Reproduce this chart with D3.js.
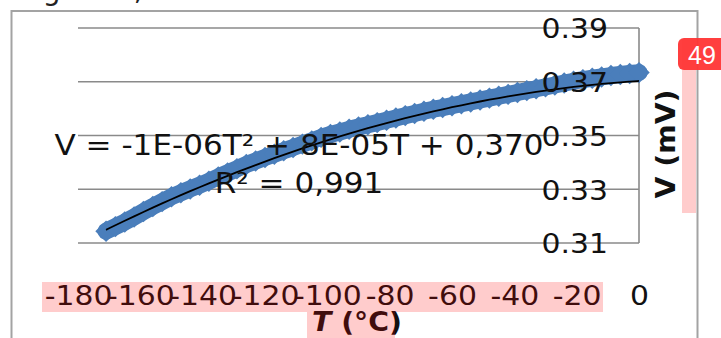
<!DOCTYPE html>
<html>
<head>
<meta charset="utf-8">
<script src="https://cdn.jsdelivr.net/npm/d3@7"></script>
<style>
  html, body { margin: 0; padding: 0; background: #fff; overflow: hidden; }
  svg { display: block; }
</style>
</head>
<body>
<svg id="chart" width="721" height="338"></svg>
<script>
// Thermocouple voltage vs temperature, with a 2nd-order polynomial trend
const temperature = [-171, -168, -165, -162, -159, -156, -153, -150, -147, -144,
  -141, -138, -135, -132, -129, -126, -123, -120, -117, -114,
  -111, -108, -105, -102, -99, -96, -93, -90, -87, -84,
  -81, -78, -75, -72, -69, -66, -63, -60, -57, -54,
  -51, -48, -45, -42, -39, -36, -33, -30, -27, -24,
  -21, -18, -15, -12, -9, -6, -3, 0];
const voltage = [0.3144, 0.3161, 0.3178, 0.3197, 0.3217, 0.3236, 0.3254, 0.3272, 0.3287, 0.3301,
  0.3315, 0.3330, 0.3346, 0.3361, 0.3376, 0.3392, 0.3405, 0.3418, 0.3430, 0.3443,
  0.3455, 0.3468, 0.3480, 0.3493, 0.3504, 0.3513, 0.3523, 0.3532, 0.3540, 0.3548,
  0.3557, 0.3565, 0.3574, 0.3582, 0.3590, 0.3598, 0.3604, 0.3611, 0.3618, 0.3625,
  0.3632, 0.3639, 0.3646, 0.3653, 0.3660, 0.3667, 0.3674, 0.3681, 0.3688, 0.3695,
  0.3702, 0.3708, 0.3713, 0.3718, 0.3723, 0.3727, 0.3731, 0.3734];

// Trend polynomial V = a*T^2 + b*T + c and its fit quality
const trendCoef = [-1.45e-6, 7.6e-5, 0.3703];
const rSquared = 0.991;

const xTicks = [-180, -160, -140, -120, -100, -80, -60, -40, -20, 0];
const yTicks = [0.31, 0.33, 0.35, 0.37, 0.39];
const xTitle = "T";
const xUnit = " (°C)";
const yTitle = "V (mV)";

const svg = d3.select("#chart");
const FONT = "'DejaVu Sans', Verdana, sans-serif";
const STRETCH = 1.09;

const x = d3.scaleLinear().domain([-180, 0]).range([78, 639]);
const y = d3.scaleLinear().domain([0.31, 0.39]).range([243, 28]);

// caption line running off the top of the frame
svg.append("text").attr("x", 21).attr("y", 0)
  .attr("font-family", FONT).attr("font-size", 28).attr("fill", "#222")
  .text("Figura 3,");

// chart area border
svg.append("rect")
  .attr("x", 11.5).attr("y", 11).attr("width", 686).attr("height", 400)
  .attr("fill", "none").attr("stroke", "#a3a3a3").attr("stroke-width", 2);

// horizontal gridlines
svg.append("g").selectAll("line").data(yTicks).join("line")
  .attr("x1", x(-180)).attr("x2", x(0))
  .attr("y1", d => y(d)).attr("y2", d => y(d))
  .attr("stroke", "#8a8a8a").attr("stroke-width", 1.6);

// vertical axis line (crosses at T = 0)
svg.append("line")
  .attr("x1", x(0)).attr("x2", x(0)).attr("y1", y(0.39)).attr("y2", y(0.31))
  .attr("stroke", "#8a8a8a").attr("stroke-width", 1.6);

// measured series: dense band of diamond markers
const pts = temperature.map((t, i) => [t, voltage[i]]);
const blue = "#4a7ebb";
svg.append("path")
  .datum(pts)
  .attr("d", d3.line().x(d => x(d[0])).y(d => y(d[1])))
  .attr("fill", "none").attr("stroke", blue).attr("stroke-width", 17)
  .attr("stroke-linejoin", "round").attr("stroke-linecap", "round");
svg.append("g").selectAll("path").data(pts).join("path")
  .attr("d", d3.symbol(d3.symbolSquare, 230))
  .attr("transform", d => `translate(${x(d[0])},${y(d[1])}) rotate(45)`)
  .attr("fill", blue);

// polynomial trendline
const [a, b, c] = trendCoef;
const poly = t => a * t * t + b * t + c;
svg.append("path")
  .datum(temperature)
  .attr("d", d3.line().x(t => x(t)).y(t => y(poly(t))).curve(d3.curveBasis))
  .attr("fill", "none").attr("stroke", "#000").attr("stroke-width", 1.8);

// y axis labels, to the left of the axis line
const yAxis = d3.axisLeft(y).tickValues(yTicks).tickSize(0).tickPadding(0)
  .tickFormat(d3.format(".2f"));
const gy = svg.append("g").attr("transform", "translate(608,0)").call(yAxis);
gy.select(".domain").remove();
gy.selectAll("text")
  .attr("font-family", FONT).attr("font-size", 27.4).attr("fill", "#111")
  .attr("x", 0).attr("dy", "0.36em")
  .attr("transform", `scale(${STRETCH},1)`);

// x axis labels under the plot
const xAxis = d3.axisBottom(x).tickValues(xTicks).tickSize(0).tickPadding(0)
  .tickFormat(d => String(d));
const gx = svg.append("g").attr("transform", "translate(0,305)").call(xAxis);
gx.select(".domain").remove();
gx.selectAll("text")
  .attr("font-family", FONT).attr("font-size", 27.4).attr("fill", "#111")
  .attr("y", 0).attr("dy", 0)
  .attr("transform", `scale(${STRETCH},1)`);

// trendline equation and R²
const sci = v => {
  const [m, e] = Math.abs(v).toExponential(0).split("e");
  const ex = +e;
  return m + "E" + (ex < 0 ? "-" : "+") + String(Math.abs(ex)).padStart(2, "0");
};
const sgn = v => (v < 0 ? "- " : "+ ");
const eqText = "V = " + (a < 0 ? "-" : "") + sci(a) + "T² " + sgn(b) + sci(b) + "T " +
  sgn(c) + Math.abs(c).toFixed(3).replace(".", ",");
const r2Text = "R² = " + rSquared.toFixed(3).replace(".", ",");

[[eqText, 155], [r2Text, 193]].forEach(([s, by]) => {
  svg.append("text")
    .attr("transform", `translate(299,${by}) scale(${STRETCH},1)`)
    .attr("text-anchor", "middle")
    .attr("font-family", FONT).attr("font-size", 28.5).attr("fill", "#111")
    .text(s);
});

// axis titles
const xt = svg.append("text")
  .attr("transform", `translate(357,331) scale(${STRETCH},1)`)
  .attr("text-anchor", "middle")
  .attr("font-family", FONT).attr("font-size", 26).attr("font-weight", "bold")
  .attr("fill", "#111");
xt.append("tspan").attr("font-style", "italic").text(xTitle);
xt.append("tspan").text(xUnit);

svg.append("text")
  .attr("transform", `translate(675,144) rotate(-90) scale(${STRETCH},1)`)
  .attr("text-anchor", "middle")
  .attr("font-family", FONT).attr("font-size", 26).attr("font-weight", "bold")
  .attr("fill", "#111")
  .text(yTitle);

// highlight overlays on the axis texts
const hl = "rgba(255,0,0,0.2)";
svg.append("rect").attr("x", 42).attr("y", 282).attr("width", 561).attr("height", 30).attr("fill", hl);
svg.append("rect").attr("x", 307).attr("y", 312).attr("width", 88).attr("height", 30).attr("fill", hl);
svg.append("rect").attr("x", 682).attr("y", 40).attr("width", 14).attr("height", 173).attr("fill", hl);

// count badge
svg.append("rect").attr("x", 678).attr("y", 38).attr("width", 60).attr("height", 32)
  .attr("rx", 6).attr("fill", "#ff3535").attr("fill-opacity", 0.95);
svg.append("text").attr("x", 688).attr("y", 64)
  .attr("font-family", "'Liberation Sans', Arial, sans-serif").attr("font-size", 25)
  .attr("fill", "#fff").text("49");
</script>
</body>
</html>
